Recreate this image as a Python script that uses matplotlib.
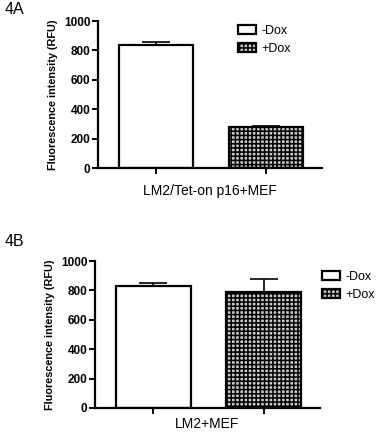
import matplotlib
matplotlib.use('Agg')
import matplotlib.pyplot as plt
from matplotlib.patches import Patch

plt.rcParams['font.family'] = ['Liberation Sans', 'DejaVu Sans']
plt.rcParams['hatch.linewidth'] = 1.1

# data
groups = ['-Dox', '+Dox']
panelA_means = [840, 280]
panelA_errs = [15, 7]
panelB_means = [830, 791]
panelB_errs = [22, 86]
panelA_label = 'LM2/Tet-on p16+MEF'
panelB_label = 'LM2+MEF'
yticks = [0, 200, 400, 600, 800, 1000]

fig = plt.figure(figsize=(3.77, 4.33), dpi=100)
W, H = 377, 433
CHECK = '++++'
CHECK_FACE = '#c8c8c8'


def px_axes(left, top, right, bottom):
    return fig.add_axes([left / W, 1 - bottom / H, (right - left) / W, (bottom - top) / H])


def draw_panel(ax, means, errs, xlabel, pad):
    xs = [0, 1]
    bars = ax.bar(xs, means, width=0.68, color=['white', 'white'],
                  edgecolor='black', linewidth=1.6, zorder=2)
    bars[1].set_hatch(CHECK)
    bars[1].set_facecolor(CHECK_FACE)
    # only upper error bars, like GraphPad
    ax.errorbar(xs, means, yerr=[[0, 0], errs], fmt='none', ecolor='black',
                elinewidth=1.2, capsize=10, capthick=1.2, zorder=1)
    ax.set_xlim(-0.527, 1.509)
    ax.set_ylim(0, 1000)
    ax.set_yticks(yticks)
    ax.set_xticks(xs)
    ax.set_xticklabels(['', ''])
    ax.spines['top'].set_visible(False)
    ax.spines['right'].set_visible(False)
    for s in ['left', 'bottom']:
        ax.spines[s].set_linewidth(1.6)
    ax.tick_params(axis='both', width=1.4, length=4, pad=1.5)
    for lab in ax.get_yticklabels():
        lab.set_fontsize(8.5)
        lab.set_fontweight('bold')
    ax.set_ylabel('Fluorescence intensity (RFU)', fontsize=7.8, fontweight='bold',
                  labelpad=4)
    ax.set_xlabel(xlabel, fontsize=10, labelpad=pad)


def legend_handles():
    h1 = Patch(facecolor='white', edgecolor='black', linewidth=1.6, label=groups[0])
    h2 = Patch(facecolor=CHECK_FACE, edgecolor='black', linewidth=1.6,
               hatch=CHECK, label=groups[1])
    return [h1, h2]


LEG = dict(frameon=False, fontsize=9, handlelength=1.4, handleheight=0.7,
           handletextpad=0.5, labelspacing=0.45, borderpad=0, borderaxespad=0,
           loc='upper left')

axA = px_axes(98, 21, 322, 168)
draw_panel(axA, panelA_means, panelA_errs, panelA_label, 6)
axA.legend(handles=legend_handles(), bbox_to_anchor=(238 / W, 1 - 25 / H),
           bbox_transform=fig.transFigure, **LEG)

axB = px_axes(95, 261, 320, 408)
draw_panel(axB, panelB_means, panelB_errs, panelB_label, 1)
axB.legend(handles=legend_handles(), bbox_to_anchor=(322 / W, 1 - 271 / H),
           bbox_transform=fig.transFigure, **LEG)

fig.text(5 / W, 1 - 10 / H, '4A', fontsize=11.5, va='center', ha='left')
fig.text(5 / W, 1 - 242 / H, '4B', fontsize=11.5, va='center', ha='left')

fig.savefig('out.png', dpi=100)
